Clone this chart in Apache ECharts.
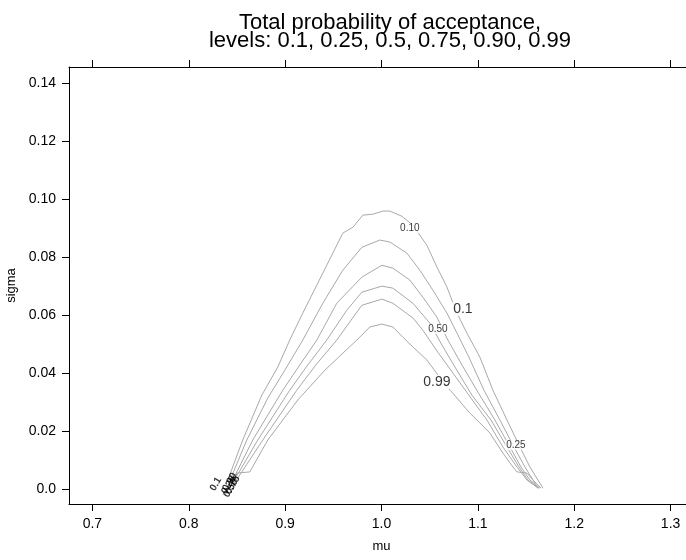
<!DOCTYPE html>
<html>
<head>
<meta charset="utf-8">
<script src="https://cdn.jsdelivr.net/npm/echarts@6/dist/echarts.min.js"></script>
<style>
  html, body { margin: 0; padding: 0; background: #fff; }
  #chart { width: 686px; height: 560px; }
</style>
</head>
<body>
<div id="chart"></div>
<script>
// Contour lines of total probability of acceptance over (mu, sigma)
const mu10    = [0.8405,0.8560,0.8758,0.8924,0.9048,0.9183,0.9391,0.9599,0.9703,0.9806,0.9910,1.0014,1.0087,1.0211,1.0326,1.0471,1.0575,1.0679,1.0783,1.0886,1.1021,1.1156,1.1302,1.1437,1.1540,1.1624,1.1676];
const sigma10 = [0.0031,0.0169,0.0324,0.0421,0.0514,0.0607,0.0745,0.0883,0.0903,0.0945,0.0948,0.0959,0.0959,0.0941,0.0910,0.0841,0.0766,0.0697,0.0607,0.0538,0.0455,0.0341,0.0238,0.0145,0.0076,0.0031,0.0003];

const mu25    = [0.8425,0.8602,0.8820,0.8997,0.9183,0.9391,0.9599,0.9796,0.9983,1.0087,1.0263,1.0398,1.0533,1.0679,1.0783,1.0907,1.1063,1.1229,1.1375,1.1489,1.1572,1.1655];
const sigma25 = [0.0028,0.0169,0.0314,0.0410,0.0514,0.0641,0.0755,0.0834,0.0859,0.0852,0.0814,0.0755,0.0686,0.0607,0.0538,0.0455,0.0341,0.0238,0.0145,0.0076,0.0031,0.0003];

const mu50    = [0.8446,0.8664,0.8976,0.9152,0.9329,0.9536,0.9796,1.0004,1.0118,1.0294,1.0429,1.0575,1.0689,1.0835,1.1001,1.1177,1.1333,1.1447,1.1540,1.1644];
const sigma50 = [0.0024,0.0169,0.0341,0.0428,0.0514,0.0641,0.0731,0.0772,0.0762,0.0721,0.0662,0.0593,0.0514,0.0428,0.0334,0.0238,0.0145,0.0076,0.0031,0.0003];

const mu75    = [0.8456,0.8716,0.9048,0.9235,0.9432,0.9640,0.9796,1.0004,1.0118,1.0326,1.0502,1.0627,1.0762,1.0938,1.1136,1.1302,1.1427,1.1520,1.1634];
const sigma75 = [0.0021,0.0169,0.0341,0.0428,0.0514,0.0617,0.0679,0.0700,0.0693,0.0641,0.0572,0.0497,0.0421,0.0324,0.0238,0.0145,0.0076,0.0031,0.0003];

const mu90    = [0.8467,0.8768,0.9121,0.9318,0.9536,0.9796,1.0004,1.0118,1.0326,1.0429,1.0585,1.0772,1.0980,1.1094,1.1260,1.1406,1.1510,1.1624];
const sigma90 = [0.0017,0.0169,0.0341,0.0428,0.0514,0.0634,0.0655,0.0641,0.0590,0.0548,0.0472,0.0386,0.0290,0.0238,0.0145,0.0076,0.0031,0.0003];

const mu99    = [0.8477,0.8498,0.8633,0.8820,0.9131,0.9412,0.9744,0.9879,1.0004,1.0118,1.0222,1.0326,1.0471,1.0679,1.0731,1.0917,1.1021,1.1125,1.1260,1.1364,1.1406,1.1510,1.1572,1.1624];
const sigma99 = [0.0014,0.0055,0.0059,0.0169,0.0307,0.0410,0.0514,0.0559,0.0569,0.0559,0.0524,0.0490,0.0445,0.0352,0.0334,0.0262,0.0228,0.0193,0.0124,0.0076,0.0059,0.0055,0.0031,0.0003];

// Contour labels placed along the lines
const smallLabelText  = ['0.10', '0.50', '0.25'];
const smallLabelMu    = [1.0294, 1.0585, 1.1395];
const smallLabelSigma = [0.0900, 0.0552, 0.0152];

const bigLabelText  = ['0.1', '0.99'];
const bigLabelMu    = [1.0845, 1.0575];
const bigLabelSigma = [0.0621, 0.0369];

// Crowded labels where all contours meet near sigma = 0
const crowdText  = ['0.1', '0.25', '0.50', '0.75', '0.90'];
const crowdMu    = [0.8280, 0.8415, 0.8436, 0.8456, 0.8425];
const crowdSigma = [0.0017, 0.0014, 0.0003, 0.0014, 0.0024];

// Axis ticks
const muTicks    = [0.7, 0.8, 0.9, 1.0, 1.1, 1.2, 1.3];
const sigmaTicks = [0, 0.02, 0.04, 0.06, 0.08, 0.10, 0.12, 0.14];

const FONT = '"Liberation Sans", Arial, Helvetica, sans-serif';
const LINE = '#a9a9a9';

function pairs(xs, ys) { return xs.map((x, i) => [x, ys[i]]); }
function labelled(xs, ys, names) { return xs.map((x, i) => ({ value: [x, ys[i]], name: names[i] })); }

const contours = [
  ['0.1',  mu10, sigma10],
  ['0.25', mu25, sigma25],
  ['0.5',  mu50, sigma50],
  ['0.75', mu75, sigma75],
  ['0.90', mu90, sigma90],
  ['0.99', mu99, sigma99]
];

const lineSeries = contours.map(([name, xs, ys]) => ({
  name: name,
  type: 'line',
  data: pairs(xs, ys),
  showSymbol: false,
  symbol: 'none',
  smooth: false,
  silent: true,
  lineStyle: { color: LINE, width: 1 },
  z: 2
}));

const chart = echarts.init(document.getElementById('chart'), null, { renderer: 'canvas' });

chart.setOption({
  animation: false,
  backgroundColor: '#fff',
  title: {
    text: 'Total probability of acceptance,\nlevels: 0.1, 0.25, 0.5, 0.75, 0.90, 0.99',
    left: 385,
    top: 9,
    textAlign: 'center',
    textStyle: { fontFamily: FONT, fontSize: 22, fontWeight: 'normal', color: '#000', lineHeight: 18 }
  },
  grid: { left: 69, top: 67, width: 625, height: 437, containLabel: false, outerBoundsMode: 'none' },
  xAxis: [
    {
      type: 'value', position: 'bottom', min: 0.6757, max: 1.3243,
      name: 'mu', nameLocation: 'middle', nameGap: 36,
      nameTextStyle: { fontFamily: FONT, fontSize: 13, color: '#000' },
      axisLine: { show: true, onZero: false, lineStyle: { color: '#000', width: 1 } },
      axisTick: { show: true, inside: false, length: 7, customValues: muTicks, lineStyle: { color: '#000' } },
      axisLabel: { show: true, margin: 13, customValues: muTicks, formatter: v => v.toFixed(1),
                   fontFamily: FONT, fontSize: 14, color: '#000' },
      splitLine: { show: false }
    },
    {
      type: 'value', position: 'top', min: 0.6757, max: 1.3243,
      axisLine: { show: true, onZero: false, lineStyle: { color: '#000', width: 1 } },
      axisTick: { show: true, inside: false, length: 7, customValues: muTicks, lineStyle: { color: '#000' } },
      axisLabel: { show: false },
      splitLine: { show: false }
    }
  ],
  yAxis: [
    {
      type: 'value', position: 'left', min: -0.00517, max: 0.1456,
      name: 'sigma', nameLocation: 'middle', nameGap: 39, nameRotate: 90,
      nameTextStyle: { fontFamily: FONT, fontSize: 13, color: '#000' },
      axisLine: { show: true, onZero: false, lineStyle: { color: '#000', width: 1 } },
      axisTick: { show: true, inside: false, length: 7, customValues: sigmaTicks, lineStyle: { color: '#000' } },
      axisLabel: { show: true, margin: 13, customValues: sigmaTicks,
                   formatter: v => (Math.abs(v) < 1e-9 ? '0.0' : v.toFixed(2)),
                   fontFamily: FONT, fontSize: 14, color: '#000' },
      splitLine: { show: false }
    }
  ],
  series: lineSeries.concat([
    {
      name: 'small labels', type: 'scatter', symbolSize: 0, silent: true, z: 5,
      data: labelled(smallLabelMu, smallLabelSigma, smallLabelText),
      label: { show: true, position: 'inside', formatter: p => p.name,
               fontFamily: FONT, fontSize: 10, color: '#000',
               backgroundColor: '#fff', padding: [0, 1] }
    },
    {
      name: 'big labels', type: 'scatter', symbolSize: 0, silent: true, z: 5,
      data: labelled(bigLabelMu, bigLabelSigma, bigLabelText),
      label: { show: true, position: 'inside', formatter: p => p.name,
               fontFamily: FONT, fontSize: 14, color: '#000',
               backgroundColor: '#fff', padding: [0, 1] }
    },
    {
      name: 'crowded labels', type: 'scatter', symbolSize: 0, silent: true, z: 6,
      data: labelled(crowdMu, crowdSigma, crowdText),
      label: { show: true, position: 'inside', formatter: p => p.name,
               fontFamily: FONT, fontSize: 10, fontWeight: 'bold', color: '#000', rotate: 60 }
    }
  ])
});
</script>
</body>
</html>
